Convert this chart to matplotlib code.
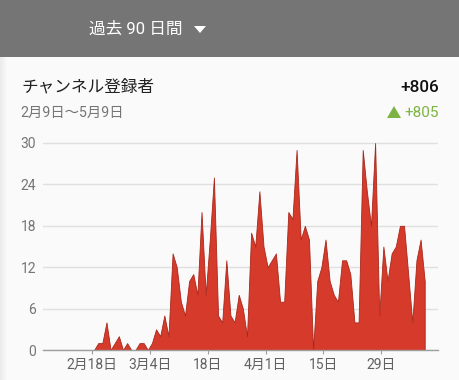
import numpy as np
import pandas as pd
import matplotlib
matplotlib.use("Agg")
import matplotlib.pyplot as plt
import matplotlib.dates as mdates
from matplotlib.patches import Rectangle, Polygon

plt.rcParams['font.family'] = ['Roboto', 'Noto Sans CJK JP', 'DejaVu Sans']

# daily new subscribers, 2月9日 .. 5月9日 (90 days)
subs = [0, 0, 0, 0, 0, 0, 0, 0, 0, 0,
        1, 1, 4, 0, 1, 2, 0, 1, 0, 0,
        1, 1, 0, 1, 3, 2, 5, 2, 14, 12,
        7, 5, 10, 11, 8, 20, 8, 16, 25, 5,
        4, 13, 5, 4, 8, 6, 2, 17, 15, 23,
        15, 12, 13, 14, 7, 7, 20, 19, 29, 16,
        18, 16, 0, 10, 12, 16, 10, 8, 7, 13,
        13, 11, 4, 4, 29, 23, 18, 30, 5, 15,
        10, 14, 15, 18, 18, 11, 4, 13, 16, 10]
start_date = "2019-02-09"
tick_dates = ["2019-02-18", "2019-03-04", "2019-03-18", "2019-04-01", "2019-04-15", "2019-04-29"]
tick_labels = ["2月18日", "3月4日", "18日", "4月1日", "15日", "29日"]
y_ticks = [0, 6, 12, 18, 24, 30]

title = "チャンネル登録者"
period = "2月9日〜5月9日"
total = "+806"
change = "+805"
range_label = "過去 90 日間"

days = pd.date_range(start_date, periods=len(subs), freq="D") + pd.Timedelta(hours=12)
x = mdates.date2num(days.to_pydatetime())

W, H = 460, 380
fig = plt.figure(figsize=(W / 100, H / 100), dpi=100)
fig.patch.set_facecolor("#fafafa")

def fx(px):
    return px / W

def fy(py):
    return 1 - py / H

# header bar
fig.patches.append(Rectangle((0, fy(57)), 1, 57 / H, transform=fig.transFigure,
                             facecolor="#757575", edgecolor="none", zorder=0))
fig.text(fx(89), fy(29), range_label, color="white", fontsize=12, va="center", ha="left")
fig.patches.append(Polygon([(fx(194), fy(26)), (fx(206), fy(26)), (fx(200), fy(33))],
                           closed=True, transform=fig.transFigure,
                           facecolor="white", edgecolor="none"))

# left edge shadow
for i in range(7):
    fig.patches.append(Rectangle((fx(i), 0), 1 / W, fy(57), transform=fig.transFigure,
                                 facecolor="#000000", alpha=0.06 * (7 - i) / 7,
                                 edgecolor="none", zorder=0))

fig.text(fx(21), fy(87), title, color="#212121", fontsize=12, va="center", ha="left")
fig.text(fx(439), fy(87), total, color="#111111", fontsize=12.3, va="center", ha="right",
         fontweight="medium")
fig.text(fx(20), fy(113), period, color="#757575", fontsize=10.3, va="center", ha="left")
fig.text(fx(439), fy(113), change, color="#7cb342", fontsize=11, va="center", ha="right")
fig.patches.append(Polygon([(fx(387), fy(118)), (fx(401), fy(118)), (fx(394), fy(106))],
                           closed=True, transform=fig.transFigure,
                           facecolor="#7cb342", edgecolor="none"))

# chart
ppu = 207 / 30
ymax = 30.6
top_px = 350 - ymax * ppu
ax = fig.add_axes([fx(43), 30 / H, fx(438) - fx(43), (350 - top_px) / H])
ax.set_facecolor("none")

ax.fill_between(x, subs, 0, facecolor="#d63a2b", edgecolor="#a8281c", linewidth=0.6, zorder=3)

ax.set_ylim(0, ymax)
ax.set_yticks(y_ticks)
ax.set_yticklabels([str(v) for v in y_ticks])
ax.yaxis.grid(True, color="#e0e0e0", linewidth=1.0)
ax.set_axisbelow(True)

t0 = mdates.date2num(pd.Timestamp(tick_dates[0]).to_pydatetime())
per_day = 4.133
ax.set_xlim(t0 - (92 - 43) / per_day, t0 + (438 - 92) / per_day)
ax.set_xticks([mdates.date2num(pd.Timestamp(d).to_pydatetime()) for d in tick_dates])
ax.set_xticklabels(tick_labels)

for s in ["top", "right", "left"]:
    ax.spines[s].set_visible(False)
ax.spines["bottom"].set_color("#9e9e9e")
ax.spines["bottom"].set_linewidth(1.0)
ax.spines["bottom"].set_zorder(4)

ax.tick_params(axis="y", length=0, pad=5, labelsize=10, labelcolor="#757575")
ax.tick_params(axis="x", length=3, width=0.8, color="#9e9e9e", pad=3,
               labelsize=10, labelcolor="#616161")

fig.savefig("out.png", dpi=100, facecolor=fig.get_facecolor())
